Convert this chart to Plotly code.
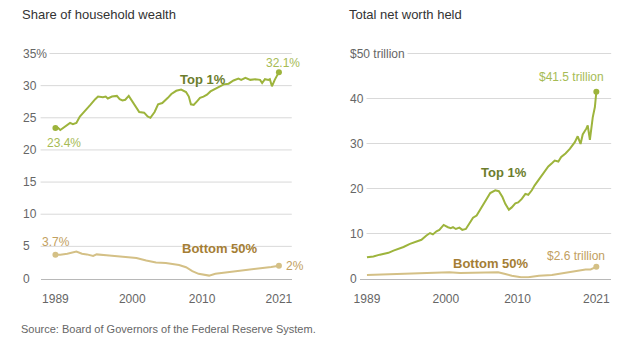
import plotly.graph_objects as go

# ---------------- data ----------------
share_top_years = [1989.0,1989.4,1989.7,1990.4,1991.1,1991.5,1992.0,1992.5,1993.2,1994.0,
                   1994.7,1995.1,1995.8,1996.2,1996.5,1997.1,1997.8,1998.2,1998.6,1999.0,
                   1999.5,2000.0,2000.6,2001.0,2001.7,2002.2,2002.6,2003.2,2003.7,2004.3,
                   2005.1,2005.6,2006.3,2007.0,2007.7,2008.1,2008.4,2008.8,2009.3,2009.7,
                   2010.2,2010.7,2011.2,2011.7,2012.4,2013.1,2013.8,2014.5,2015.2,2015.6,
                   2016.2,2016.9,2017.6,2018.3,2018.6,2019.0,2019.5,2019.7,2020.0,2020.4,2021.0]
share_top = [23.4,23.4,23.1,23.6,24.2,24.0,24.2,25.2,26.0,27.0,
             27.9,28.3,28.2,28.3,28.0,28.3,28.4,27.9,27.7,27.8,
             28.4,27.5,26.5,25.9,25.8,25.2,25.0,25.9,27.1,27.3,
             28.1,28.7,29.2,29.4,29.0,28.3,27.1,27.0,27.6,28.1,
             28.3,28.6,29.1,29.4,29.9,30.2,30.3,30.8,31.1,30.9,
             31.2,30.9,31.0,30.9,30.4,31.0,30.9,31.0,29.9,30.9,32.1]

share_bot_years = [1989.0,1989.7,1990.7,1992.0,1992.8,1993.5,1994.4,1994.9,1996.3,1997.7,
                   1999.2,2000.6,2002.0,2003.4,2004.8,2006.7,2007.7,2008.6,2009.5,2010.5,
                   2011.0,2011.9,2013.3,2015.2,2017.1,2019.0,2019.9,2021.0]
share_bot = [3.7,3.7,3.85,4.2,3.85,3.75,3.5,3.75,3.6,3.45,
             3.3,3.2,2.8,2.5,2.4,2.1,1.75,1.15,0.73,0.57,
             0.45,0.73,0.9,1.15,1.4,1.7,1.8,2.0]

worth_top_years = [1989.0,1989.9,1990.8,1992.0,1992.7,1994.1,1995.0,1995.9,1996.6,1997.3,
                   1997.8,1998.2,1998.7,1999.1,1999.7,2000.3,2000.7,2001.0,2001.4,2001.9,
                   2002.3,2002.8,2003.2,2003.8,2004.3,2004.9,2005.6,2006.2,2006.9,2007.4,
                   2007.9,2008.3,2008.8,2009.2,2009.7,2010.1,2010.6,2011.1,2011.5,2012.0,
                   2012.4,2013.1,2013.8,2014.3,2014.8,2015.2,2015.7,2016.1,2016.7,2017.3,
                   2018.0,2018.4,2018.8,2019.1,2019.6,2019.8,2020.1,2020.5,2020.8,2021.0]
worth_top = [4.7,4.9,5.3,5.7,6.2,7.0,7.7,8.3,8.6,9.55,
             10.1,9.8,10.5,10.8,11.9,11.4,11.2,11.4,11.0,11.3,
             10.8,11.0,12.1,13.5,14.0,15.5,17.2,19.0,19.6,19.4,
             18.1,16.6,15.3,15.8,16.7,16.9,17.7,18.8,18.6,19.6,
             20.7,22.2,23.6,24.9,25.6,26.2,26.0,27.0,27.8,28.8,
             30.3,31.6,29.9,32.0,33.3,34.0,30.8,35.8,38.1,41.5]

worth_bot_years = [1989.0,1991.0,1993.0,1995.0,1997.0,1999.0,2000.5,2002.0,2004.0,2006.0,
                   2007.3,2008.3,2009.2,2010.5,2011.5,2013.0,2014.8,2016.5,2018.0,2019.5,
                   2020.2,2020.7,2021.0]
worth_bot = [0.8,0.9,1.0,1.05,1.2,1.35,1.4,1.25,1.3,1.4,
             1.4,1.0,0.6,0.3,0.3,0.6,0.8,1.2,1.6,2.0,
             2.0,2.3,2.6]

x_tickvals = [1989, 2000, 2010, 2021]
x_ticktext = ["1989", "2000", "2010", "2021"]
share_ticks = [0, 5, 10, 15, 20, 25, 30, 35]
share_ticktext = ["0", "5", "10", "15", "20", "25", "30", "35%"]
worth_ticks = [0, 10, 20, 30, 40, 50]
worth_ticktext = ["0", "10", "20", "30", "40", "$50 trillion"]

# ---------------- styles ----------------
W, H = 627, 344
FONT = "Liberation Sans, Arial, sans-serif"
GREEN_LINE = "#9db43c"
GREEN_LABEL = "#a6bb55"
GREEN_DARK = "#6c7d2c"
TAN_LINE = "#d4c086"
TAN_LABEL = "#c2a060"
TAN_DARK = "#a57e34"
GRID = "#d9d9d9"
TICK = "#666666"
LEFT_DOM = [35 / W, 289 / W]
RIGHT_DOM = [358 / W, 612 / W]

fig = go.Figure()

def line(x, y, color, xa, ya, width=2):
    fig.add_trace(go.Scatter(x=x, y=y, mode="lines", line=dict(color=color, width=width),
                             xaxis=xa, yaxis=ya, hoverinfo="skip", showlegend=False))

def dots(x, y, color, xa, ya):
    fig.add_trace(go.Scatter(x=x, y=y, mode="markers", marker=dict(color=color, size=6),
                             xaxis=xa, yaxis=ya, hoverinfo="skip", showlegend=False, cliponaxis=False))

line(share_bot_years, share_bot, TAN_LINE, "x", "y")
line(share_top_years, share_top, GREEN_LINE, "x", "y")
dots([share_top_years[0], share_top_years[-1]], [share_top[0], share_top[-1]], GREEN_LINE, "x", "y")
dots([share_bot_years[0], share_bot_years[-1]], [share_bot[0], share_bot[-1]], TAN_LINE, "x", "y")

line(worth_bot_years, worth_bot, TAN_LINE, "x2", "y2")
line(worth_top_years, worth_top, GREEN_LINE, "x2", "y2")
dots([worth_top_years[-1]], [worth_top[-1]], GREEN_LINE, "x2", "y2")
dots([worth_bot_years[-1]], [worth_bot[-1]], TAN_LINE, "x2", "y2")

# plot area: value 0 at pixel row 278.5, top gridline at row 53.5 (half-pixel -> crisp 1px lines)
TOP_PX, ZERO_PX, GRID_TOP_PX = 44.5, 278.5, 53.5
ydom = [1 - ZERO_PX / H, 1 - TOP_PX / H]
pad = (GRID_TOP_PX - TOP_PX) / (ZERO_PX - GRID_TOP_PX)
xcommon = dict(tickvals=x_tickvals, ticktext=x_ticktext, showgrid=False, zeroline=False,
               showline=True, linecolor="#b8b8b8", linewidth=1,
               ticks="outside", ticklen=9, tickcolor="rgba(0,0,0,0)",
               tickfont=dict(family=FONT, size=12, color=TICK), fixedrange=True)
ycommon = dict(showticklabels=False, showgrid=False, zeroline=False, showline=False,
               ticks="", fixedrange=True, domain=ydom)

fig.update_layout(
    width=W, height=H, margin=dict(l=0, r=0, t=0, b=0),
    paper_bgcolor="white", plot_bgcolor="rgba(0,0,0,0)", showlegend=False,
    xaxis=dict(domain=LEFT_DOM, range=[1986.88, 2022.84], anchor="y", **xcommon),
    yaxis=dict(range=[0, 35 * (1 + pad)], anchor="x", **ycommon),
    xaxis2=dict(domain=RIGHT_DOM, range=[1988.03, 2023.07], anchor="y2", **xcommon),
    yaxis2=dict(range=[0, 50 * (1 + pad)], anchor="x2", **ycommon),
)

# horizontal gridlines at the y tick values (top ones drawn above; no data crosses them)
shapes = []
for v in share_ticks[1:]:
    shapes.append(dict(type="line", xref="paper", yref="y", x0=LEFT_DOM[0], x1=LEFT_DOM[1],
                       y0=v, y1=v, line=dict(color=GRID, width=1),
                       layer="above" if v == share_ticks[-1] else "below"))
for v in worth_ticks[1:]:
    shapes.append(dict(type="line", xref="paper", yref="y2", x0=RIGHT_DOM[0], x1=RIGHT_DOM[1],
                       y0=v, y1=v, line=dict(color=GRID, width=1),
                       layer="above" if v == worth_ticks[-1] else "below"))
fig.update_layout(shapes=shapes)

ann = []
# y tick labels (left aligned, white background hides gridline behind them)
for v, t in zip(share_ticks, share_ticktext):
    ann.append(dict(x=14 / W, xref="paper", y=v, yref="y", text=t, showarrow=False,
                    xanchor="left", yanchor="middle", bgcolor="white", borderpad=2,
                    font=dict(family=FONT, size=12, color=TICK)))
for v, t in zip(worth_ticks, worth_ticktext):
    ann.append(dict(x=345 / W, xref="paper", y=v, yref="y2", text=t, showarrow=False,
                    xanchor="left", yanchor="middle", bgcolor="white", borderpad=2,
                    font=dict(family=FONT, size=12, color=TICK)))

# titles and source
ann.append(dict(x=14 / W, y=1 - 15 / H, xref="paper", yref="paper", text="Share of household wealth",
                showarrow=False, xanchor="left", yanchor="middle",
                font=dict(family=FONT, size=13, color="#333333")))
ann.append(dict(x=345 / W, y=1 - 15 / H, xref="paper", yref="paper", text="Total net worth held",
                showarrow=False, xanchor="left", yanchor="middle",
                font=dict(family=FONT, size=13, color="#333333")))
ann.append(dict(x=13 / W, y=1 - 329 / H, xref="paper", yref="paper",
                text="Source: Board of Governors of the Federal Reserve System.",
                showarrow=False, xanchor="left", yanchor="middle",
                font=dict(family=FONT, size=11, color="#666666")))

# value labels
def lab(x, y, xr, yr, text, color, xanchor, xshift, yshift, size=12, bold=False):
    ann.append(dict(x=x, y=y, xref=xr, yref=yr, text=("<b>%s</b>" % text) if bold else text,
                    showarrow=False, xanchor=xanchor, yanchor="middle",
                    xshift=xshift, yshift=yshift,
                    font=dict(family=FONT, size=size, color=color)))

lab(share_top_years[-1], share_top[-1], "x", "y", "%.1f%%" % share_top[-1], GREEN_LABEL, "center", 4, 9)
lab(share_top_years[0], share_top[0], "x", "y", "%.1f%%" % share_top[0], GREEN_LABEL, "left", -10, -15)
lab(share_bot_years[0], share_bot[0], "x", "y", "%.1f%%" % share_bot[0], TAN_LABEL, "center", 1, 13)
lab(share_bot_years[-1], share_bot[-1], "x", "y", "%d%%" % round(share_bot[-1]), TAN_LABEL, "left", 5, 0)
lab(2010.1, 31.0, "x", "y", "Top 1%", GREEN_DARK, "center", 0, 0, size=13, bold=True)
lab(2012.5, 4.67, "x", "y", "Bottom 50%", TAN_DARK, "center", 0, 0, size=13, bold=True)

lab(worth_top_years[-1], worth_top[-1], "x2", "y2", "$%.1f trillion" % worth_top[-1], GREEN_LABEL, "right", 10, 15)
lab(worth_bot_years[-1], worth_bot[-1], "x2", "y2", "$%.1f trillion" % worth_bot[-1], TAN_LABEL, "right", 11, 11)
lab(2008.1, 23.6, "x2", "y2", "Top 1%", GREEN_DARK, "center", 0, 0, size=13, bold=True)
lab(2006.3, 3.33, "x2", "y2", "Bottom 50%", TAN_DARK, "center", 0, 0, size=13, bold=True)

fig.update_layout(annotations=ann)
fig.write_html("out.html", config={"displayModeBar": False})
